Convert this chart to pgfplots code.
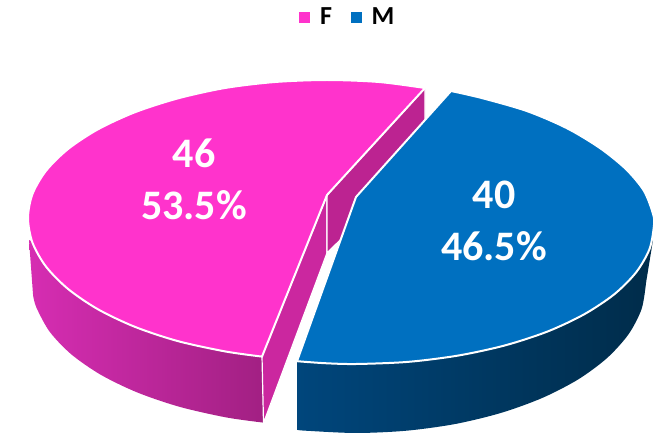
\documentclass[border=0pt]{standalone}
\usepackage{fontspec}
\setmainfont{Carlito}
\usepackage{pgfplots}
\pgfplotsset{compat=1.18}
\definecolor{pinktop}{HTML}{FF33CC}
\definecolor{bluetop}{HTML}{0070C0}
\definecolor{pinkcut}{HTML}{BC2391}
\definecolor{pinkcutb}{HTML}{CB279F}
\definecolor{pinkwalla}{HTML}{D62DB2}
\definecolor{pinkwallb}{HTML}{A22083}
\definecolor{bluewalla}{HTML}{00467C}
\definecolor{bluewallb}{HTML}{002C4A}
\newcommand{\lab}{\fontsize{42}{48}\selectfont\bfseries}
\newcommand{\leg}{\fontsize{26}{28}\selectfont\bfseries}

\begin{document}
\begin{tikzpicture}
\begin{axis}[
  width=667pt,
  height=433pt,
  scale only axis,
  hide axis,
  xmin=0,xmax=667,
  ymin=0,ymax=433,
  y dir=reverse,
  legend columns=4,
  legend image code/.code={\fill[#1] (0pt,-5pt) rectangle (10pt,5pt);},
  legend style={at={(axis cs:346.5,17)},anchor=center,draw=none,fill=none,
    inner sep=0pt,
    nodes={inner sep=0pt},
    /tikz/column 1/.style={column sep=11pt},
    /tikz/column 2/.style={column sep=19pt},
    /tikz/column 3/.style={column sep=10pt}},
]
\path (axis cs:0,0) rectangle (axis cs:667,433);

% pink outer wall
\addplot[forget plot,smooth,draw=none,left color=pinkwalla,right color=pinkwallb]
  coordinates {(33.1,295.5) (36.5,307.8) (49.8,331.9) (71.5,354.5) (101,374.9) (137.4,392.5) (179.5,406.8) (226.1,417.4) (263.2,422.6)}
  -- (axis cs:262,356) -- (axis cs:29,240) -- cycle;
% pink cut faces
\addplot[forget plot,fill=pinkcutb,draw=white,line width=1.2pt]
  coordinates {(327,195) (262,356) (263.5,423) (327,253)} -- cycle;
\addplot[forget plot,fill=pinkcut,draw=white,line width=1.2pt]
  coordinates {(327,195) (425,88) (425,156) (327,253)} -- cycle;
% pink top
\addplot[forget plot,smooth,fill=pinktop,draw=white,line width=2pt]
  coordinates {(425,88) (379,82) (327,80) (275,82) (225,88) (177.5,98.5) (134.8,112.3) (98,129.3) (68.1,149) (46,170.8) (32.5,194) (28,218)
    (32.5,242.7) (46,266.6) (68.1,289) (98,309.3) (134.8,326.8) (177.5,341) (225,351.4) (262,356.6)}
  -- (axis cs:327,195) -- cycle;

% blue outer wall
\addplot[forget plot,smooth,draw=none,left color=bluewalla,middle color=bluewallb,right color=bluewallb]
  coordinates {(297,429.8) (305.6,430.7) (356,433) (406.4,430.7) (455.2,424) (501,412.9) (542.4,397.9) (578.2,379.4) (607.1,358) (628.5,334.3) (641.6,309) (646,283)}
  -- (axis cs:653,240) -- (axis cs:297,361) -- cycle;
% blue top
\addplot[forget plot,smooth,fill=bluetop,draw=white,line width=2pt]
  coordinates {(451,91) (482,98.1) (527,111.1) (566.7,128.1) (600,148.1) (626,169.2) (643.9,190.8) (652.9,213.5) (654,225)
    (649.5,249.1) (636,272.5) (614,294.5) (584,314.4) (547.6,331.5) (505,345.4) (457.9,355.6) (407.7,361.9) (356,364) (325,363.2) (297,361.2)}
  -- (axis cs:356,197) -- cycle;

\addlegendimage{pinktop}
\addlegendentry{\leg F}
\addlegendimage{bluetop}
\addlegendentry{\leg M}

\node[white,font=\lab] at (axis cs:194,153) {46};
\node[white,font=\lab] at (axis cs:194,205) {53.5\%};
\node[white,font=\lab] at (axis cs:494,195) {40};
\node[white,font=\lab] at (axis cs:494,246) {46.5\%};
\end{axis}
\end{tikzpicture}
\end{document}
